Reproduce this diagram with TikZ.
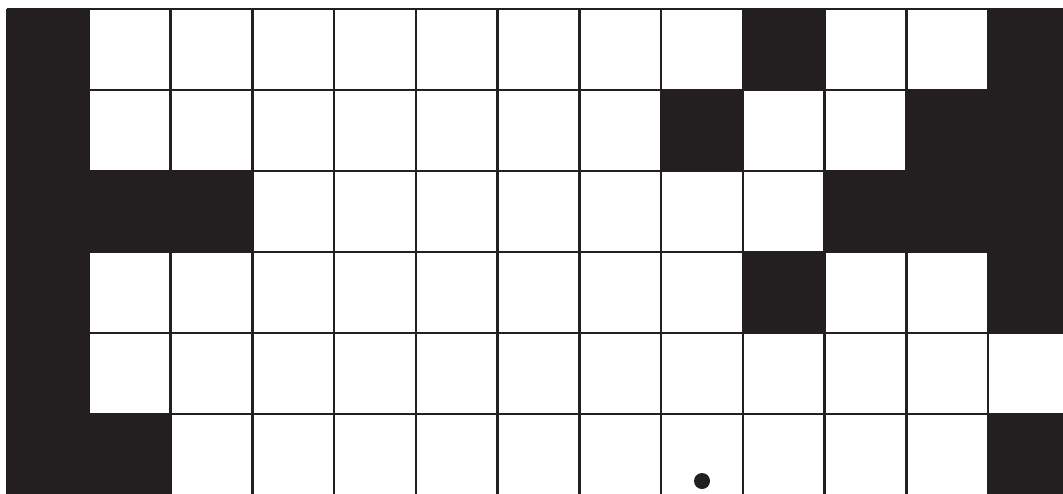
\documentclass[tikz,border=0pt]{standalone}
\definecolor{ink}{HTML}{231F20}
\begin{document}
\begin{tikzpicture}[x=1pt,y=-1pt,
  gridline/.style={draw=ink,line width=2.5pt},
  blackcell/.style={fill=ink}]
\useasboundingbox (0,0) rectangle (1063,493);
\clip (0,0) rectangle (1063,493);
\def\cw{81.75}
\def\rh{81}
\foreach \c/\r in {0/0,9/0,12/0,0/1,8/1,11/1,12/1,0/2,1/2,2/2,10/2,11/2,12/2,0/3,9/3,12/3,0/4,0/5,1/5,12/5}
  \fill[blackcell] ({7+\c*\cw},{9+\r*\rh}) rectangle ++(\cw,\rh);
\foreach \i in {0,...,13}
  \draw[gridline] ({7+\i*\cw},9) -- ({7+\i*\cw},500);
\foreach \j in {0,...,6}
  \draw[gridline] (7,{9+\j*\rh}) -- (1075,{9+\j*\rh});
\fill[ink] (702,481) circle (8);
\end{tikzpicture}
\end{document}
